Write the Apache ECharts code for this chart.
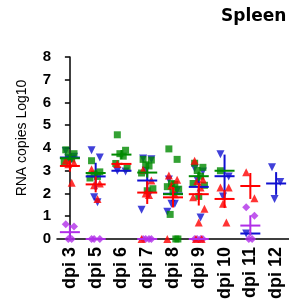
<!DOCTYPE html>
<html><head><meta charset="utf-8">
<script src="https://cdn.jsdelivr.net/npm/echarts@6/dist/echarts.min.js"></script>
<style>html,body{margin:0;padding:0;background:#fff}#c{width:289px;height:302px}</style>
</head><body><div id="c"></div>
<script>
const categories = ['dpi 3','dpi 5','dpi 6','dpi 7','dpi 8','dpi 9','dpi 10','dpi 11','dpi 12'];
const yTicks = [0,1,2,3,4,5,6,7,8];

const bluePoints = [
  [3.87, 3.62, 3.55, 3.50],
  [3.90, 3.58, 1.83, 1.62],
  [3.00, 2.97],
  [3.54, 3.50, 3.00, 1.95, 1.28],
  [2.62, 2.14, 1.55, 1.55, 1.20],
  [3.11, 2.97, 2.60, 0.95],
  [3.73, 2.75, 1.87],
  [0.24],
  [3.15, 2.50, 1.76]
];
const greenPoints = [
  [3.92, 3.75, 3.62, 3.52, 3.40],
  [3.44, 2.95, 2.85, 2.75, 2.68],
  [4.58, 3.90, 3.75, 3.64, 3.32, 3.11],
  [3.50, 3.47, 3.26, 3.21, 2.90, 2.21, 2.12],
  [3.96, 3.50, 2.44, 2.40, 2.30, 2.19, 2.07, 1.08, 0, 0],
  [3.33, 3.15, 3.01, 2.76, 2.44, 2.36, 1.87],
  [3.00],
  [],
  []
];
const redPoints = [
  [3.45, 3.35, 3.28, 2.47],
  [3.07, 2.44, 2.36, 1.76],
  [3.30],
  [3.04, 2.57, 2.00, 1.93, 0],
  [2.79, 2.60, 2.35, 1.97, 0],
  [3.44, 2.61, 2.55, 2.26, 1.83, 1.33, 0.73, 0, 0],
  [2.26, 2.26, 1.55, 0.73],
  [2.93, 1.79],
  []
];
const purplePoints = [
  [0.65, 0.55, 0, 0],
  [0, 0, 0],
  [],
  [0, 0, 0, 0],
  [],
  [0, 0, 0, 0],
  [],
  [1.40, 1.02, 0, 0],
  []
];

const blueMean = [3.58, 2.75, 3.00, 2.57, 1.99, 2.29, 2.76, 0.24, 2.44];
const blueErr  = [0.08, 0.60, 0.00, 0.45, 0.25, 0.50, 0.95, 0.05, 0.50];
const greenMean = [3.55, 2.90, 3.71, 2.92, 1.97, 2.76, 3.00, null, null];
const greenErr  = [0.12, 0.15, 0.20, 0.22, 0.40, 0.20, 0.00, null, null];
const redMean = [3.21, 2.40, 3.30, 2.04, 1.83, 1.97, 1.76, 2.33, null];
const redErr  = [0.25, 0.35, 0.05, 0.50, 0.45, 0.50, 0.40, 0.57, null];
const purpleMean = [0.30, 0, null, 0, null, 0, null, 0.59, null];
const purpleErr  = [0.32, 0, null, 0, null, 0, null, 0.45, null];

const jitter = [-0.16, 0.16, -0.06, 0.07, -0.22, 0.22, 0.0, -0.11, 0.11, 0.19];

const COLORS = {blue:'#1010d0', green:'#008a00', red:'#ff0000', purple:'#b02ee8'};

function toScatter(points){
  const out=[];
  points.forEach((arr,i)=>arr.forEach((v,k)=>out.push([i+jitter[k%jitter.length], v])));
  return out;
}
function toMean(mean,err){
  const out=[];
  mean.forEach((m,i)=>{ if(m!==null) out.push([i,m,err[i]]); });
  return out;
}
function meanSeries(name,mean,err,color){
  return {
    type:'custom', name, xAxisIndex:0, yAxisIndex:0, z:5,
    data: toMean(mean,err),
    renderItem(params,api){
      const c=api.coord([api.value(0),api.value(1)]);
      const hi=api.coord([api.value(0),api.value(1)+api.value(2)]);
      const lo=api.coord([api.value(0),Math.max(0,api.value(1)-api.value(2))]);
      const st={stroke:color,lineWidth:2};
      return {type:'group',children:[
        {type:'line',shape:{x1:c[0]-10,y1:c[1],x2:c[0]+10,y2:c[1]},style:st},
        {type:'line',shape:{x1:c[0],y1:hi[1],x2:c[0],y2:lo[1]},style:st}
      ]};
    }
  };
}
function scatterSeries(name,points,symbol,size,color,rotate){
  return {type:'scatter',name,xAxisIndex:1,yAxisIndex:0,symbol,symbolSize:size,symbolRotate:rotate||0,
    itemStyle:{color},data:toScatter(points),z:3};
}

const chart = echarts.init(document.getElementById('c'),null,{renderer:'canvas'});
chart.setOption({
  animation:false,
  title:{text:'Spleen',left:216,top:3,textStyle:{fontFamily:'DejaVu Sans',fontWeight:'bold',fontSize:17,color:'#000'}},
  grid:{left:57,top:57,width:244,height:187.5,containLabel:false},
  xAxis:[
    {type:'category',data:categories,boundaryGap:true,
      axisLine:{lineStyle:{color:'#000',width:1.5}},
      axisTick:{alignWithLabel:true,length:5,lineStyle:{color:'#000',width:1.5}},
      axisLabel:{rotate:90,margin:8,color:'#000',fontFamily:'Liberation Sans',fontWeight:'bold',fontSize:18}},
    {type:'value',min:-0.5,max:8.5,show:false}
  ],
  yAxis:{type:'value',min:yTicks[0],max:yTicks[yTicks.length-1],interval:1,
    name:'RNA copies Log10',nameLocation:'middle',nameGap:28,nameRotate:90,
    nameTextStyle:{fontFamily:'Liberation Sans',fontSize:14,color:'#000',padding:[0,0,0,20]},
    axisLine:{show:true,lineStyle:{color:'#000',width:1.5}},
    axisTick:{show:true,length:5,lineStyle:{color:'#000',width:1.5}},
    axisLabel:{margin:6,color:'#000',fontFamily:'Liberation Sans',fontWeight:'bold',fontSize:15},
    splitLine:{show:false}},
  series:[
    scatterSeries('blue',bluePoints,'triangle',8,COLORS.blue,180),
    scatterSeries('green',greenPoints,'rect',7,COLORS.green),
    scatterSeries('purple',purplePoints,'diamond',8,COLORS.purple),
    scatterSeries('red',redPoints,'triangle',8,COLORS.red),
    meanSeries('blueMean',blueMean,blueErr,COLORS.blue),
    meanSeries('greenMean',greenMean,greenErr,COLORS.green),
    meanSeries('purpleMean',purpleMean,purpleErr,COLORS.purple),
    meanSeries('redMean',redMean,redErr,COLORS.red)
  ]
});
</script></body></html>
